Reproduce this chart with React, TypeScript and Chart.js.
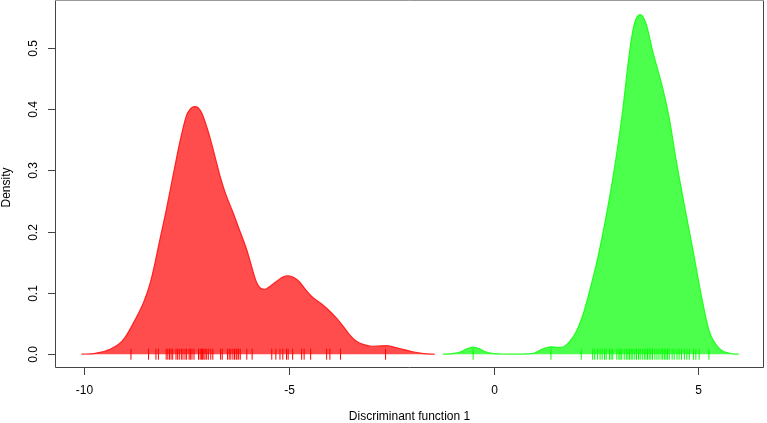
import React, { useEffect, useRef } from "react";
import { Chart, registerables } from "chart.js";

Chart.register(...registerables);

// Density curve of group 1 (red)
const redX = [-10.07, -9.73, -9.37, -9.08, -8.96, -8.76, -8.55, -8.39, -8.27, -8.15, -8.02, -7.9, -7.78, -7.66, -7.5, -7.41, -7.32, -7.22, -7.12, -7.0, -6.88, -6.76, -6.66, -6.56, -6.36, -6.2, -6.03, -5.9, -5.79, -5.68, -5.59, -5.46, -5.3, -5.15, -5.02, -4.88, -4.73, -4.59, -4.41, -4.24, -4.08, -3.84, -3.68, -3.51, -3.37, -3.19, -2.98, -2.78, -2.61, -2.46, -2.22, -1.98, -1.71, -1.44];
const redY = [0.0, 0.0015, 0.008, 0.021, 0.032, 0.056, 0.085, 0.116, 0.15, 0.188, 0.228, 0.268, 0.309, 0.348, 0.39, 0.4, 0.404, 0.402, 0.392, 0.369, 0.341, 0.31, 0.285, 0.264, 0.23, 0.201, 0.17, 0.14, 0.117, 0.107, 0.106, 0.111, 0.119, 0.126, 0.128, 0.125, 0.117, 0.105, 0.092, 0.084, 0.075, 0.059, 0.046, 0.031, 0.022, 0.016, 0.013, 0.0135, 0.014, 0.012, 0.008, 0.004, 0.001, 0.0];

// Density curve of group 2 (green)
const greenX = [-1.24, -1.0, -0.8, -0.65, -0.5, -0.35, -0.2, 0.0, 0.2, 0.5, 0.8, 1.0, 1.15, 1.3, 1.4, 1.55, 1.65, 1.75, 1.85, 2.02, 2.18, 2.34, 2.54, 2.74, 2.95, 3.15, 3.31, 3.43, 3.58, 3.72, 3.89, 4.13, 4.29, 4.45, 4.66, 4.86, 5.07, 5.27, 5.51, 5.76, 5.99];
const greenY = [0.0, 0.001, 0.004, 0.009, 0.0115, 0.009, 0.004, 0.001, 0.0003, 0.0, 0.0005, 0.002, 0.007, 0.011, 0.012, 0.011, 0.011, 0.014, 0.02, 0.037, 0.064, 0.102, 0.156, 0.222, 0.303, 0.396, 0.488, 0.537, 0.554, 0.54, 0.493, 0.434, 0.385, 0.32, 0.243, 0.173, 0.097, 0.037, 0.0096, 0.0015, 0.0];

// Rug (individual scores)
const redRug = [-8.86, -8.43, -8.25, -8.19, -8.0, -7.96, -7.92, -7.88, -7.84, -7.76, -7.72, -7.68, -7.63, -7.59, -7.54, -7.5, -7.44, -7.41, -7.37, -7.32, -7.21, -7.17, -7.14, -7.11, -7.08, -7.05, -7.01, -6.97, -6.91, -6.86, -6.67, -6.63, -6.5, -6.46, -6.42, -6.37, -6.33, -6.29, -6.27, -6.23, -6.19, -6.03, -5.9, -5.42, -5.32, -5.22, -5.15, -5.06, -5.02, -4.91, -4.69, -4.63, -4.47, -4.08, -4.0, -3.74, -2.64];
const greenRug = [-0.5, 1.4, 2.14, 2.42, 2.47, 2.54, 2.6, 2.65, 2.71, 2.75, 2.83, 2.87, 2.91, 3.01, 3.06, 3.09, 3.13, 3.19, 3.24, 3.28, 3.32, 3.36, 3.4, 3.45, 3.49, 3.54, 3.58, 3.63, 3.68, 3.72, 3.76, 3.8, 3.84, 3.88, 3.94, 3.99, 4.04, 4.09, 4.13, 4.17, 4.21, 4.25, 4.29, 4.36, 4.41, 4.48, 4.53, 4.59, 4.66, 4.72, 4.78, 4.88, 4.94, 5.02, 5.26];

const xTicks = [-10, -5, 0, 5];
const yTicks = [0.0, 0.1, 0.2, 0.3, 0.4, 0.5];
const xTitle = "Discriminant function 1";
const yTitle = "Density";

const FONT = '12px "Liberation Sans", Arial, sans-serif';

const axesPlugin = {
  id: "rAxes",
  afterDraw(chart: any) {
    const ctx = chart.ctx;
    const a = chart.chartArea;
    const xs = chart.scales.x;
    const ys = chart.scales.y;
    ctx.save();
    // box
    ctx.lineWidth = 1;
    ctx.strokeStyle = "#444";
    ctx.beginPath();
    ctx.moveTo(a.left + 0.5, a.top);
    ctx.lineTo(a.left + 0.5, a.bottom - 0.5);
    ctx.lineTo(a.right - 0.5, a.bottom - 0.5);
    ctx.lineTo(a.right - 0.5, a.top);
    ctx.stroke();
    ctx.strokeStyle = "#999";
    ctx.beginPath();
    ctx.moveTo(a.left, 0.5);
    ctx.lineTo(a.right, 0.5);
    ctx.stroke();

    ctx.strokeStyle = "#444";
    ctx.fillStyle = "#000";
    ctx.font = FONT;
    // x ticks
    ctx.textAlign = "center";
    ctx.textBaseline = "middle";
    xTicks.forEach((v) => {
      const px = Math.round(xs.getPixelForValue(v)) + 0.5;
      ctx.beginPath();
      ctx.moveTo(px, a.bottom);
      ctx.lineTo(px, a.bottom + 7);
      ctx.stroke();
      ctx.fillText(String(v), px, 391);
    });
    // y ticks
    yTicks.forEach((v) => {
      const py = Math.round(ys.getPixelForValue(v)) + 0.5;
      ctx.beginPath();
      ctx.moveTo(a.left, py);
      ctx.lineTo(a.left - 7, py);
      ctx.stroke();
      ctx.save();
      ctx.translate(34, py);
      ctx.rotate(-Math.PI / 2);
      ctx.fillText(v.toFixed(1), 0, 0);
      ctx.restore();
    });
    // titles
    ctx.fillText(xTitle, (a.left + a.right) / 2, 417);
    ctx.save();
    ctx.translate(7, (a.top + a.bottom) / 2 + 3);
    ctx.rotate(-Math.PI / 2);
    ctx.fillText(yTitle, 0, 0);
    ctx.restore();
    ctx.restore();
  },
};

export default function App() {
  const ref = useRef<HTMLCanvasElement | null>(null);
  useEffect(() => {
    document.body.style.margin = "0";
    const canvas = ref.current!;
    const chart = new Chart(canvas, {
      type: "line",
      data: {
        datasets: [
          {
            type: "scatter",
            data: redRug.map((x) => ({ x, y: 0 })),
            pointStyle: "line",
            rotation: 90,
            radius: 5.5,
            borderColor: "rgba(255,0,0,1)",
            borderWidth: 1,
            order: 0,
          } as any,
          {
            type: "scatter",
            data: greenRug.map((x) => ({ x, y: 0 })),
            pointStyle: "line",
            rotation: 90,
            radius: 5.5,
            borderColor: "rgba(0,255,0,1)",
            borderWidth: 1,
            order: 0,
          } as any,
          {
            data: redX.map((x, i) => ({ x, y: redY[i] })),
            borderColor: "rgba(255,20,20,0.9)",
            backgroundColor: "rgba(255,0,0,0.7)",
            borderWidth: 1.2,
            fill: "origin",
            pointRadius: 0,
            cubicInterpolationMode: "monotone",
            order: 1,
          },
          {
            data: greenX.map((x, i) => ({ x, y: greenY[i] })),
            borderColor: "rgba(20,255,20,0.9)",
            backgroundColor: "rgba(0,255,0,0.7)",
            borderWidth: 1.2,
            fill: "origin",
            pointRadius: 0,
            cubicInterpolationMode: "monotone",
            order: 1,
          },
        ],
      },
      options: {
        animation: false,
        responsive: false,
        maintainAspectRatio: false,
        devicePixelRatio: 1,
        layout: { autoPadding: false, padding: { left: 55, right: 3, top: 1, bottom: 55 } },
        plugins: { legend: { display: false }, tooltip: { enabled: false } },
        events: [],
        scales: {
          x: { type: "linear", display: false, min: -10.716, max: 6.605 },
          y: { type: "linear", display: false, min: -0.0225, max: 0.5762 },
        },
      },
      plugins: [axesPlugin],
    });
    return () => chart.destroy();
  }, []);
  return (
    <div style={{ width: 767, height: 423, background: "#fff" }}>
      <canvas ref={ref} width={767} height={423} style={{ display: "block" }} />
    </div>
  );
}
